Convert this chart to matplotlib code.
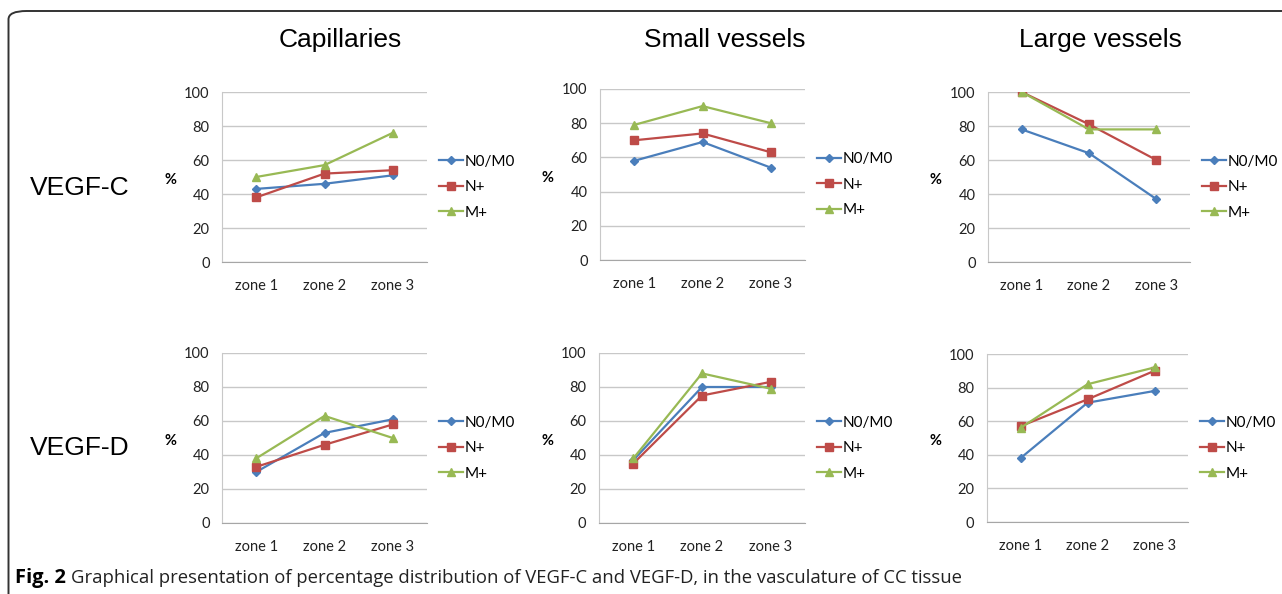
import numpy as np
import matplotlib
matplotlib.use("Agg")
import matplotlib.pyplot as plt
from matplotlib.patches import FancyBboxPatch

zones = ["zone 1", "zone 2", "zone 3"]
groups = ["N0/M0", "N+", "M+"]
vessels = ["Capillaries", "Small vessels", "Large vessels"]
markers_rows = ["VEGF-C", "VEGF-D"]

# VEGF-C, values per vessel type: N0/M0, N+, M+
vegfc_cap = [[43, 46, 51], [38, 52, 54], [50, 57, 76]]
vegfc_small = [[58, 69, 54], [70, 74, 63], [79, 90, 80]]
vegfc_large = [[78, 64, 37], [100, 81, 60], [100, 78, 78]]

# VEGF-D
vegfd_cap = [[30, 53, 61], [33, 46, 58], [38, 63, 50]]
vegfd_small = [[37, 80, 80], [35, 75, 83], [38, 88, 79]]
vegfd_large = [[38, 71, 78], [57, 73, 90], [56, 82, 92]]

data = [[vegfc_cap, vegfc_small, vegfc_large],
        [vegfd_cap, vegfd_small, vegfd_large]]

colors = ["#4A7EBB", "#BE4B48", "#98B954"]
mk = ["D", "s", "^"]
msz = [4.5, 6, 6]

W, H = 1282, 594
fig = plt.figure(figsize=(W / 100, H / 100), dpi=100)

# axes boxes in pixels: left, top, width, height
boxes = [[(222, 92, 205, 170), (600, 89, 205, 171), (988, 92, 202, 170)],
         [(222, 353, 205, 170), (599, 353, 206, 170), (987, 354, 201, 168)]]

tickfont = "Lato"
for r in range(2):
    for c in range(3):
        l, t, w, h = boxes[r][c]
        ax = fig.add_axes([l / W, 1 - (t + h) / H, w / W, h / H])
        x = np.arange(len(zones))
        for g in range(3):
            ax.plot(x, data[r][c][g], color=colors[g], lw=1.6, marker=mk[g],
                    ms=msz[g], label=groups[g], zorder=3)
        ax.set_xlim(-0.5, 2.5)
        ax.set_ylim(0, 100)
        ax.set_yticks(range(0, 101, 20))
        ax.set_xticks(x)
        ax.set_xticklabels(zones)
        ax.grid(axis="y", color="#C8C8C8", lw=1.0)
        ax.set_axisbelow(True)
        for s in ["top", "right"]:
            ax.spines[s].set_visible(False)
        ax.spines["bottom"].set_color("#A6A6A6")
        ax.spines["left"].set_color("#C8C8C8")
        ax.tick_params(length=0, labelsize=10.5, pad=9, labelcolor="#222222")
        ax.tick_params(axis="x", pad=12)
        for lab in ax.get_xticklabels() + ax.get_yticklabels():
            lab.set_fontfamily(tickfont)
        ax.set_ylabel("%", rotation=0, fontsize=10.5, fontweight="bold",
                      fontfamily=tickfont, va="center")
        ax.yaxis.set_label_coords(-52 / w, 0.48)
        ax.legend(loc="center left", bbox_to_anchor=(1 + 12 / w, 0.44),
                  frameon=False, borderaxespad=0, borderpad=0,
                  handlelength=1.6, handletextpad=0.1, labelspacing=0.75,
                  prop={"family": tickfont, "size": 11})

title_x = [340, 725, 1100]
for c in range(3):
    fig.text(title_x[c] / W, 1 - 40 / H, vessels[c], ha="center", va="center",
             fontsize=19, fontfamily="Liberation Sans")
row_y = [188, 448]
for r in range(2):
    fig.text(30 / W, 1 - row_y[r] / H, markers_rows[r], ha="left", va="center",
             fontsize=19, fontfamily="Liberation Sans")

# caption
cap = fig.text(15 / W, 1 - 578 / H, "Fig. 2", ha="left", va="center",
               fontsize=14.5, fontweight="bold", fontfamily="Open Sans")
fig.canvas.draw()
bb = cap.get_window_extent()
fig.text((bb.x1 + 5) / W, 1 - 578 / H,
         "Graphical presentation of percentage distribution of VEGF-C and VEGF-D, "
         "in the vasculature of CC tissue",
         ha="left", va="center", fontsize=13.3, fontfamily="Open Sans",
         color="#222222")

# rounded frame around the figure
frame = FancyBboxPatch((8.5 / W, -0.05), 1.2, 1 - 11 / H + 0.05,
                       boxstyle="round,pad=0,rounding_size=0.014",
                       transform=fig.transFigure, fill=False,
                       ec="#333333", lw=1.4, clip_on=False)
fig.patches.append(frame)

fig.savefig("out.png", dpi=100)
